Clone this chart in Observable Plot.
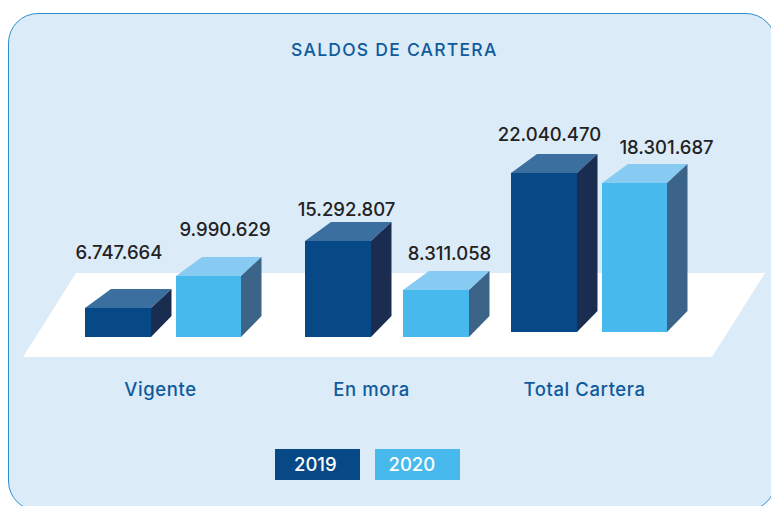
<!DOCTYPE html>
<html lang="es">
<head>
<meta charset="utf-8">
<script src="https://cdn.jsdelivr.net/npm/d3@7"></script>
<script src="https://cdn.jsdelivr.net/npm/@observablehq/plot@0.6"></script>
<style>
  html, body { margin: 0; padding: 0; background: #fff; overflow: hidden; }
  #stage { position: relative; width: 771px; height: 506px; overflow: hidden; font-family: Inter, "Open Sans", sans-serif; }
  #panel { position: absolute; left: 8px; top: 12.5px; width: 768px; height: 498px; border-radius: 30px; background: #dcebf8; border: 1.5px solid #2f8fca; box-sizing: border-box; }
  #floor { position: absolute; left: 0; top: 0; width: 771px; height: 506px; background: #fff; clip-path: polygon(76px 273px, 765px 273px, 712px 357px, 23px 357px); }
  #title { position: absolute; left: 291px; top: 39px; font-size: 17.5px; font-weight: 500; line-height: 22px; color: #0f5a9c; white-space: nowrap; letter-spacing: 1.25px; }
  #chart { position: absolute; left: 0; top: 0; }
  #chart svg { display: block; background: transparent; }
  .key { position: absolute; top: 449px; height: 31px; width: 85px; color: #fff; font-size: 18.5px; font-weight: 500; line-height: 31px; white-space: nowrap; }
</style>
</head>
<body>
<div id="stage">
  <div id="panel"></div>
  <div id="floor"></div>
  <div id="title"></div>
  <div id="chart"></div>
  <div id="legend"></div>
</div>
<script>
const titleText = "SALDOS DE CARTERA";
const categories = ["Vigente", "En mora", "Total Cartera"];
const years = ["2019", "2020"];
const saldos2019 = [6747664, 15292807, 22040470];
const saldos2020 = [9990629, 8311058, 18301687];
// The drawing is not to a common scale and the third group stands higher on the floor.
const floorLift = [0, 0, 1163000];

const yDomain = [0, 6747664, 8311058, 9990629, 15292807, 18301687, 22040470];
const yRange  = [337, 308, 290, 276, 241, 183, 173];
const xRange  = [85, 151, 176, 241, 305, 371, 403, 469, 511, 577, 602, 667];
const colors  = { "2019": "#074886", "2020": "#48b9ec" };
const topFace = { "2019": "#3a6f9f", "2020": "#87cbf3" };
const sideFace = { "2019": "#1a2c50", "2020": "#3b6488" };
const labelDx = [0.5, 16, 8, 13, 5, 31.5];
const labelDy = [-36, -27, -12, -17, -19, -16];
const categoryAnchor = [1.36, 5, 9.28];
const keyIndent = [19, 13.5];

const bars = categories.flatMap((category, c) => years.map((year, y) => ({
  category, year,
  value: (y === 0 ? saldos2019 : saldos2020)[c],
  base: floorLift[c],
  slot: (c * 2 + y) * 2
})));

function faces(index, scales, values, dimensions, context, next) {
  const g = next(index, scales, values, dimensions, context);
  const ns = "http://www.w3.org/2000/svg";
  for (const i of index) {
    const [x1, x2, bottom, top] = [values.x1[i], values.x2[i], values.y1[i], values.y2[i]];
    const shapes = [
      [topFace[bars[i].year], [[x1, top], [x1 + 26, top - 19], [x2 + 20.5, top - 19], [x2, top]]],
      [sideFace[bars[i].year], [[x2, top], [x2 + 20.5, top - 19], [x2 + 20.5, bottom - 21], [x2, bottom]]]
    ];
    for (const [fill, pts] of shapes) {
      const p = context.document.createElementNS(ns, "polygon");
      p.setAttribute("points", pts.map(q => q.join(",")).join(" "));
      p.setAttribute("fill", fill);
      g.appendChild(p);
    }
  }
  return g;
}

const chart = Plot.plot({
  width: 771,
  height: 506,
  margin: 0,
  style: { background: "transparent", fontFamily: "Inter, 'Open Sans', sans-serif", overflow: "visible" },
  x: { type: "linear", domain: d3.range(12), range: xRange, axis: null },
  y: { type: "linear", domain: yDomain, range: yRange, axis: null },
  color: { domain: years, range: years.map(y => colors[y]) },
  marks: [
    Plot.rect(bars, {
      x1: d => d.slot,
      x2: d => d.slot + 1,
      y1: "base",
      y2: "value",
      fill: "year",
      render: faces
    }),
    Plot.text(bars, {
      x: d => d.slot + 0.5,
      y: "value",
      text: d => d3.format(",")(d.value).replace(/,/g, "."),
      fill: "#222222",
      fontSize: 18.5,
      fontWeight: 500,
      render(index, scales, values, dimensions, context, next) {
        const g = next(index, scales, values, dimensions, context);
        d3.select(g).selectAll("text").attr("transform", (_, n) => {
          const i = index[n];
          return `translate(${values.x[i] + labelDx[i]},${values.y[i] + labelDy[i] - 19})`;
        });
        return g;
      }
    }),
    Plot.text(categories, {
      x: (d, i) => categoryAnchor[i],
      frameAnchor: "top",
      dy: 382,
      text: d => d,
      fill: "#0f5a9c",
      fontSize: 18.5,
      fontWeight: 500,
      render(index, scales, values, dimensions, context, next) {
        const g = next(index, scales, values, dimensions, context);
        d3.select(g).selectAll("text").style("letter-spacing", "0.6px");
        return g;
      }
    })
  ]
});
document.getElementById("chart").appendChild(chart);

document.getElementById("title").textContent = titleText;

const legend = document.getElementById("legend");
years.forEach((year, i) => {
  const key = document.createElement("div");
  key.className = "key";
  key.style.left = (275 + i * 100) + "px";
  key.style.paddingLeft = keyIndent[i] + "px";
  key.style.boxSizing = "border-box";
  key.style.background = colors[year];
  key.textContent = year;
  legend.appendChild(key);
});
</script>
</body>
</html>
